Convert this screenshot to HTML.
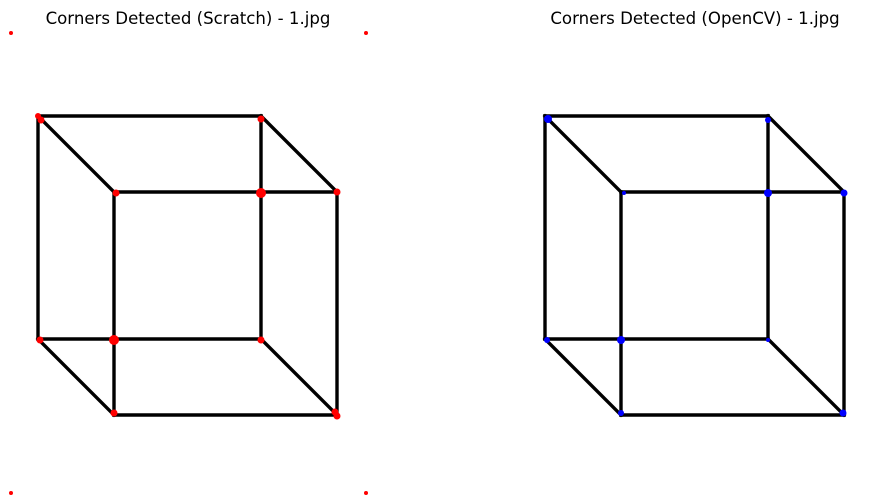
<!DOCTYPE html>
<html><head><meta charset="utf-8"><style>
html,body{margin:0;padding:0;background:#fff;}
svg{display:block;}
text{font-family:"DejaVu Sans",sans-serif;font-size:16.6px;fill:#000;}
</style></head><body>
<svg id="chart" width="884" height="504" viewBox="0 0 884 504">
<text x="188" y="24" text-anchor="middle">Corners Detected (Scratch) - 1.jpg</text>
<text x="695" y="24" text-anchor="middle">Corners Detected (OpenCV) - 1.jpg</text>
<g id="left"></g>
<g id="right"></g>
</svg>
<script>
// cube vertices in image coordinates (panel-local)
const cubeX = [28,251,251,28,104,327,327,104];
const cubeY = [83,83,306,306,159,159,382,382];
const edges = [[0,1],[1,2],[2,3],[3,0],[4,5],[5,6],[6,7],[7,4],[0,4],[1,5],[2,6],[3,7]];
// detected corners (panel-local)
const scratchX = [1,356,1,356,28,31,251,106,251,327,104,251,30,104,325,327];
const scratchY = [0,0,460,460,83,87,86,160,160,159,307,307,307,380,379,383];
const scratchR = [2,2,2,2,3,3.5,3.5,3.5,5,3.5,5,3.5,3.5,3.5,3.5,3.5];
const cvX = [31,251,107,251,327,30,104,104,251,326];
const cvY = [86,87,160,160,160,307,307,380,307,380];
const cvR = [4,3,2,4,3.5,3,4,3,2,3.5];
const NS='http://www.w3.org/2000/svg';
function draw(g, ox, oy, px, py, pr, color){
  edges.forEach(([a,b])=>{
    const l=document.createElementNS(NS,'line');
    l.setAttribute('x1',ox+cubeX[a]);l.setAttribute('y1',oy+cubeY[a]);
    l.setAttribute('x2',ox+cubeX[b]);l.setAttribute('y2',oy+cubeY[b]);
    l.setAttribute('stroke','#000');l.setAttribute('stroke-width','3.4');l.setAttribute('stroke-linecap','square');
    
    
    g.appendChild(l);
  });
  px.forEach((x,i)=>{
    const c=document.createElementNS(NS,'circle');
    c.setAttribute('cx',ox+x);c.setAttribute('cy',oy+py[i]);c.setAttribute('r',pr[i]);
    c.setAttribute('fill',color);
    
    
    g.appendChild(c);
  });
}
draw(document.getElementById('left'),10,33,scratchX,scratchY,scratchR,'#ff0000');
draw(document.getElementById('right'),517,33,cvX,cvY,cvR,'#0000ff');
</script>
</body></html>
